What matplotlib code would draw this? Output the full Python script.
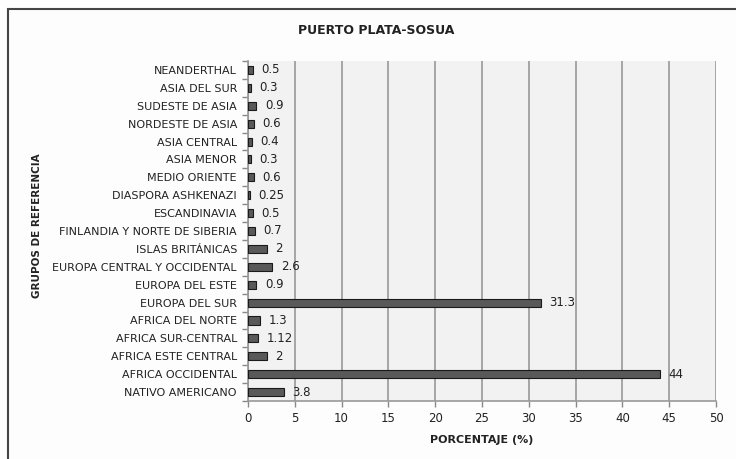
import matplotlib
matplotlib.use("Agg")
import matplotlib.pyplot as plt
import numpy as np
from matplotlib.patches import Rectangle

categories = [
    "NATIVO AMERICANO", "AFRICA OCCIDENTAL", "AFRICA ESTE CENTRAL",
    "AFRICA SUR-CENTRAL", "AFRICA DEL NORTE", "EUROPA DEL SUR",
    "EUROPA DEL ESTE", "EUROPA CENTRAL Y OCCIDENTAL", "ISLAS BRITÁNICAS",
    "FINLANDIA Y NORTE DE SIBERIA", "ESCANDINAVIA", "DIASPORA ASHKENAZI",
    "MEDIO ORIENTE", "ASIA MENOR", "ASIA CENTRAL", "NORDESTE DE ASIA",
    "SUDESTE DE ASIA", "ASIA DEL SUR", "NEANDERTHAL",
]
values = [3.8, 44, 2, 1.12, 1.3, 31.3, 0.9, 2.6, 2, 0.7, 0.5, 0.25,
          0.6, 0.3, 0.4, 0.6, 0.9, 0.3, 0.5]
value_labels = ["3.8", "44", "2", "1.12", "1.3", "31.3", "0.9", "2.6", "2",
                "0.7", "0.5", "0.25", "0.6", "0.3", "0.4", "0.6", "0.9",
                "0.3", "0.5"]
x_ticks = [0, 5, 10, 15, 20, 25, 30, 35, 40, 45, 50]

plt.rcParams['font.family'] = ['DejaVu Sans']
text_color = "#222222"

fig = plt.figure(figsize=(7.36, 4.59), dpi=100)
fig.patch.set_facecolor("#fdfdfd")

# outer frame
fig.add_artist(Rectangle((8 / 736, -0.05), 1.2, 1 - 9 / 459 + 0.05,
                         transform=fig.transFigure, fill=False,
                         edgecolor="#444444", linewidth=1.5))

ax = fig.add_axes([248 / 736, 1 - 401 / 459, (716 - 248) / 736, (401 - 61) / 459])
ax.set_facecolor("#f2f2f2")

y = np.arange(len(categories))
bars = ax.barh(y, values, height=0.45, color="#595959", edgecolor="#1a1a1a",
               linewidth=0.8, zorder=3)
ax.bar_label(bars, labels=value_labels, padding=6, fontsize=8.5, color=text_color)

ax.set_xlim(0, 50)
ax.set_ylim(-0.5, len(categories) - 0.5)
ax.set_xticks(x_ticks)
ax.set_xticklabels([str(t) for t in x_ticks], fontsize=8.5, color=text_color)
ax.set_yticks(y)
ax.set_yticklabels(categories, fontsize=8, color=text_color)
ax.tick_params(axis='y', which='major', length=0, pad=8)
ax.set_yticks(np.arange(-0.5, len(categories), 1), minor=True)
ax.tick_params(axis='y', which='minor', length=4, color="#888888", width=1)
ax.tick_params(axis='x', length=4, color="#888888", width=1, pad=4)

ax.grid(axis='x', color="#a0a0a0", linewidth=1.3, zorder=0)
ax.set_axisbelow(True)
for s in ["top", "right"]:
    ax.spines[s].set_visible(False)
for s in ["left", "bottom"]:
    ax.spines[s].set_color("#999999")
    ax.spines[s].set_linewidth(1.2)

ax.set_xlabel("PORCENTAJE (%)", fontsize=8, fontweight="bold", color=text_color,
              labelpad=7)
fig.text(37 / 736, 1 - 226 / 459, "GRUPOS DE REFERENCIA", rotation=90,
         ha="center", va="center", fontsize=7.5, fontweight="bold", color=text_color)
fig.text(376 / 736, 1 - 30 / 459, "PUERTO PLATA-SOSUA", ha="center", va="center",
         fontsize=9, fontweight="bold", color=text_color)

fig.savefig("out.png", dpi=100, facecolor=fig.get_facecolor())
